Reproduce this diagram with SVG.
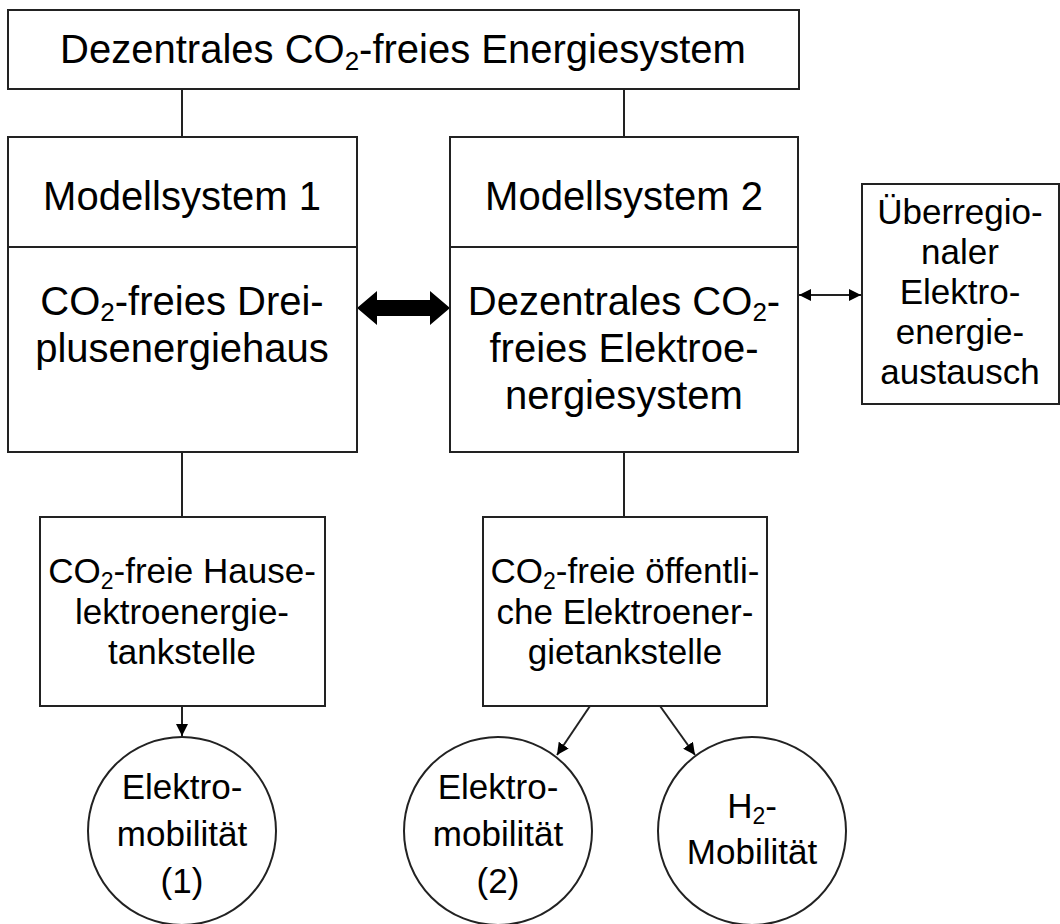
<svg xmlns="http://www.w3.org/2000/svg" width="1060" height="924" viewBox="0 0 1060 924">
<defs>
<style>
.b{fill:#fff;stroke:#222;stroke-width:2}
.l{fill:none;stroke:#222;stroke-width:2}
.t{font-family:"Liberation Sans",Arial,sans-serif;fill:#000;text-anchor:middle}
.big{font-size:40px}
.sm{font-size:35px}
</style>
<marker id="ah" viewBox="0 0 12 12" refX="12" refY="6" markerWidth="12" markerHeight="12" markerUnits="userSpaceOnUse" orient="auto-start-reverse">
<path d="M0,0 L12,6 L0,12 z" fill="#000"/>
</marker>
</defs>
<rect width="1060" height="924" fill="#fff"/>
<g id="connectors">
<line class="l" x1="182" y1="89" x2="182" y2="137"/>
<line class="l" x1="624" y1="89" x2="624" y2="137"/>
<line class="l" x1="182" y1="452" x2="182" y2="517"/>
<line class="l" x1="624" y1="452" x2="624" y2="517"/>
<polygon points="357,308 377,291 377,300 430,300 430,291 450,308 430,325 430,316 377,316 377,325" fill="#000"/>
<line class="l" x1="799" y1="295" x2="861" y2="295" marker-start="url(#ah)" marker-end="url(#ah)"/>
<line class="l" x1="182" y1="706" x2="182" y2="736" marker-end="url(#ah)"/>
<line class="l" x1="590" y1="706" x2="557" y2="755" marker-end="url(#ah)"/>
<line class="l" x1="660" y1="706" x2="695" y2="755" marker-end="url(#ah)"/>
</g>
<g id="top">
<rect class="b" x="8" y="10" width="791" height="79"/>
<text class="t big" x="403" y="63">Dezentrales CO<tspan font-size="26" dy="7">2</tspan><tspan dy="-7">-freies Energiesystem</tspan></text>
</g>
<g id="modell1">
<rect class="b" x="8" y="137" width="349" height="315"/>
<line class="l" x1="8" y1="247" x2="357" y2="247"/>
<text class="t big" x="182" y="210">Modellsystem 1</text>
<text class="t big" x="182" y="315">CO<tspan font-size="26" dy="6">2</tspan><tspan dy="-6">-freies Drei-</tspan></text>
<text class="t big" x="182" y="362">plusenergiehaus</text>
</g>
<g id="modell2">
<rect class="b" x="450" y="137" width="348" height="315"/>
<line class="l" x1="450" y1="247" x2="798" y2="247"/>
<text class="t big" x="624" y="210">Modellsystem 2</text>
<text class="t big" x="624" y="315">Dezentrales CO<tspan font-size="26" dy="6">2</tspan><tspan dy="-6">-</tspan></text>
<text class="t big" x="624" y="362">freies Elektroe-</text>
<text class="t big" x="624" y="409">nergiesystem</text>
</g>
<g id="ueberregional">
<rect class="b" x="862" y="184" width="197" height="220"/>
<text class="t sm" x="960" y="224">Überregio-</text>
<text class="t sm" x="960" y="264">naler</text>
<text class="t sm" x="960" y="304">Elektro-</text>
<text class="t sm" x="960" y="344">energie-</text>
<text class="t sm" x="960" y="384">austausch</text>
</g>
<g id="haustankstelle">
<rect class="b" x="40" y="517" width="285" height="189"/>
<text class="t sm" x="182" y="583">CO<tspan font-size="23" dy="6">2</tspan><tspan dy="-6">-freie Hause-</tspan></text>
<text class="t sm" x="182" y="624">lektroenergie-</text>
<text class="t sm" x="182" y="664">tankstelle</text>
</g>
<g id="oeffentlich">
<rect class="b" x="483" y="517" width="284" height="189"/>
<text class="t sm" x="625" y="583">CO<tspan font-size="23" dy="6">2</tspan><tspan dy="-6">-freie öffentli-</tspan></text>
<text class="t sm" x="625" y="624">che Elektroener-</text>
<text class="t sm" x="625" y="664">gietankstelle</text>
</g>
<g id="emob1">
<circle class="b" cx="182" cy="831" r="94"/>
<text class="t sm" x="182" y="799">Elektro-</text>
<text class="t sm" x="182" y="846">mobilität</text>
<text class="t sm" x="182" y="893">(1)</text>
</g>
<g id="emob2">
<circle class="b" cx="498" cy="831" r="94"/>
<text class="t sm" x="498" y="799">Elektro-</text>
<text class="t sm" x="498" y="846">mobilität</text>
<text class="t sm" x="498" y="893">(2)</text>
</g>
<g id="h2mob">
<circle class="b" cx="752" cy="831" r="94"/>
<text class="t sm" x="752" y="818">H<tspan font-size="23" dy="6">2</tspan><tspan dy="-6">-</tspan></text>
<text class="t sm" x="752" y="864">Mobilität</text>
</g>
</svg>
